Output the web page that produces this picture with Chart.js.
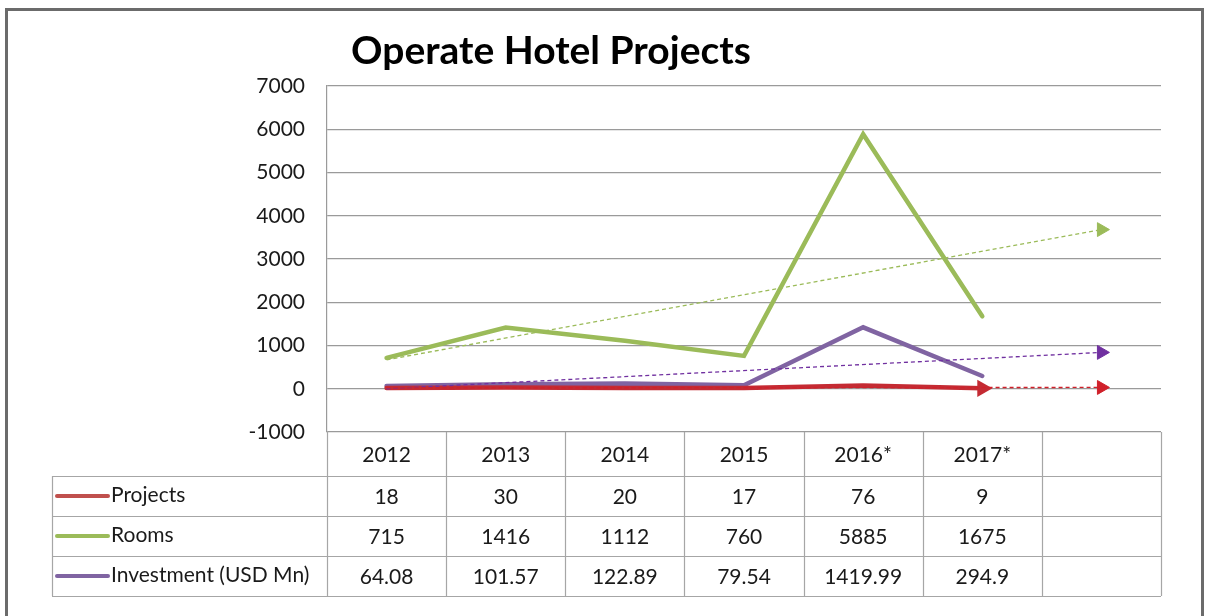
<!DOCTYPE html>
<html>
<head>
<meta charset="utf-8">
<script src="https://cdn.jsdelivr.net/npm/chart.js@4"></script>
<style>
  html, body { margin: 0; padding: 0; background: #fff; }
  #wrap { width: 1208px; height: 616px; position: relative; }
</style>
</head>
<body>
<div id="wrap"><canvas id="hotelChart" width="1208" height="616"></canvas></div>
<script>
// data
const years = ['2012', '2013', '2014', '2015', '2016*', '2017*', ''];
const projects = [18, 30, 20, 17, 76, 9];
const rooms = [715, 1416, 1112, 760, 5885, 1675];
const investment = [64.08, 101.57, 122.89, 79.54, 1419.99, 294.9];

// trendline ends (first year -> one period ahead)
const projectsTrend = [20, null, null, null, null, null, 30];
const roomsTrend = [670, null, null, null, null, null, 3680];
const investmentTrend = [0, null, null, null, null, null, 840];

const yTicks = { min: -1000, max: 7000, step: 1000 };

const FONT = 'Lato, "Open Sans", sans-serif';
const RED = '#c42b33';
const GREEN = '#9bbb59';
const PURPLE = '#8064a2';

const arrowAtEnd = (n, size) => Array.from({ length: n }, (_, i) => (i === n - 1 ? size : 0));

const tableRows = [
  { label: 'Projects', color: '#c0504d', values: projects },
  { label: 'Rooms', color: GREEN, values: rooms },
  { label: 'Investment (USD Mn)', color: PURPLE, values: investment }
];

// draws the frame, title and the data table under the plot
const tablePlugin = {
  id: 'dataTable',
  beforeDraw(chart) {
    const { ctx } = chart;
    ctx.save();
    ctx.fillStyle = '#fff';
    ctx.fillRect(0, 0, chart.width, chart.height);
    ctx.restore();
  },
  afterDraw(chart) {
    const { ctx, chartArea } = chart;
    const x = chart.scales.x;
    const n = years.length;
    const colW = (chartArea.right - chartArea.left) / n;
    const rowEdges = [chartArea.bottom, 476, 516, 556, 596];
    const tableLeft = 52;

    ctx.save();
    // outer frame
    ctx.strokeStyle = '#6b6b6b';
    ctx.lineWidth = 3;
    ctx.strokeRect(6.5, 9.5, 1196, 620);

    // title
    ctx.fillStyle = '#000';
    ctx.font = 'bold 39px ' + FONT;
    ctx.textAlign = 'center';
    ctx.textBaseline = 'middle';
    ctx.fillText('Operate Hotel Projects', 551, 51);

    // table grid
    ctx.strokeStyle = '#a6a6a6';
    ctx.lineWidth = 1.2;
    ctx.beginPath();
    for (let r = 1; r < rowEdges.length; r++) {
      ctx.moveTo(tableLeft, rowEdges[r] + 0.5);
      ctx.lineTo(chartArea.right, rowEdges[r] + 0.5);
    }
    ctx.moveTo(tableLeft + 0.5, rowEdges[1]);
    ctx.lineTo(tableLeft + 0.5, rowEdges[4]);
    for (let i = 0; i <= n; i++) {
      const cx = Math.round(chartArea.left + i * colW) + 0.5;
      ctx.moveTo(cx, chartArea.bottom);
      ctx.lineTo(cx, rowEdges[4]);
    }
    ctx.stroke();

    // header
    ctx.fillStyle = '#1a1a1a';
    ctx.font = '21px ' + FONT;
    ctx.textAlign = 'center';
    years.forEach((y, i) => {
      ctx.fillText(y, x.getPixelForValue(i), (rowEdges[0] + rowEdges[1]) / 2 + 1);
    });

    // series rows
    tableRows.forEach((row, r) => {
      const cy = (rowEdges[r + 1] + rowEdges[r + 2]) / 2;
      ctx.strokeStyle = row.color;
      ctx.lineWidth = 4;
      ctx.lineCap = 'round';
      ctx.beginPath();
      ctx.moveTo(57, cy);
      ctx.lineTo(108, cy);
      ctx.stroke();
      ctx.textAlign = 'left';
      ctx.fillText(row.label, 111, cy - 1);
      ctx.textAlign = 'center';
      row.values.forEach((v, i) => {
        ctx.fillText(String(v), x.getPixelForValue(i), cy + 1);
      });
    });
    ctx.restore();
  }
};

const lineSet = (label, data, color, arrow) => ({
  label,
  data,
  borderColor: color,
  backgroundColor: color,
  borderWidth: 4.5,
  tension: 0,
  pointStyle: 'triangle',
  rotation: 90,
  pointRadius: arrow ? arrowAtEnd(data.length, 8) : 0,
  pointBorderWidth: 2,
  pointBorderColor: color,
  pointBackgroundColor: color,
  pointHoverRadius: 0,
  borderCapStyle: 'round',
  order: 2
});

const trendSet = (label, data, color) => ({
  label,
  data,
  borderColor: color,
  backgroundColor: color,
  borderWidth: 1.3,
  borderDash: [4, 3],
  spanGaps: true,
  pointStyle: 'triangle',
  rotation: 90,
  pointRadius: arrowAtEnd(data.length, 8),
  pointBorderWidth: 1,
  pointHoverRadius: 0,
  order: 1
});

new Chart(document.getElementById('hotelChart'), {
  type: 'line',
  data: {
    labels: years,
    datasets: [
      lineSet('Projects', projects, RED, true),
      lineSet('Rooms', rooms, GREEN, false),
      lineSet('Investment (USD Mn)', investment, PURPLE, false),
      trendSet('Projects trend', projectsTrend, '#d0202a'),
      trendSet('Rooms trend', roomsTrend, GREEN),
      trendSet('Investment trend', investmentTrend, '#7030a0')
    ]
  },
  options: {
    responsive: false,
    animation: false,
    layout: { padding: { top: 86, right: 47, bottom: 184, left: 0 } },
    plugins: {
      legend: { display: false },
      title: { display: false },
      tooltip: { enabled: false }
    },
    scales: {
      x: {
        display: false,
        offset: true
      },
      y: {
        min: yTicks.min,
        max: yTicks.max,
        afterFit: (scale) => { scale.width = 327; },
        ticks: {
          stepSize: yTicks.step,
          padding: 22,
          color: '#1a1a1a',
          font: { family: FONT, size: 21 },
          callback: (v) => String(v)
        },
        grid: { color: '#9a9a9a', lineWidth: 1.2, drawTicks: false },
        border: { color: '#9a9a9a', width: 1.2 }
      }
    }
  },
  plugins: [tablePlugin]
});
</script>
</body>
</html>
